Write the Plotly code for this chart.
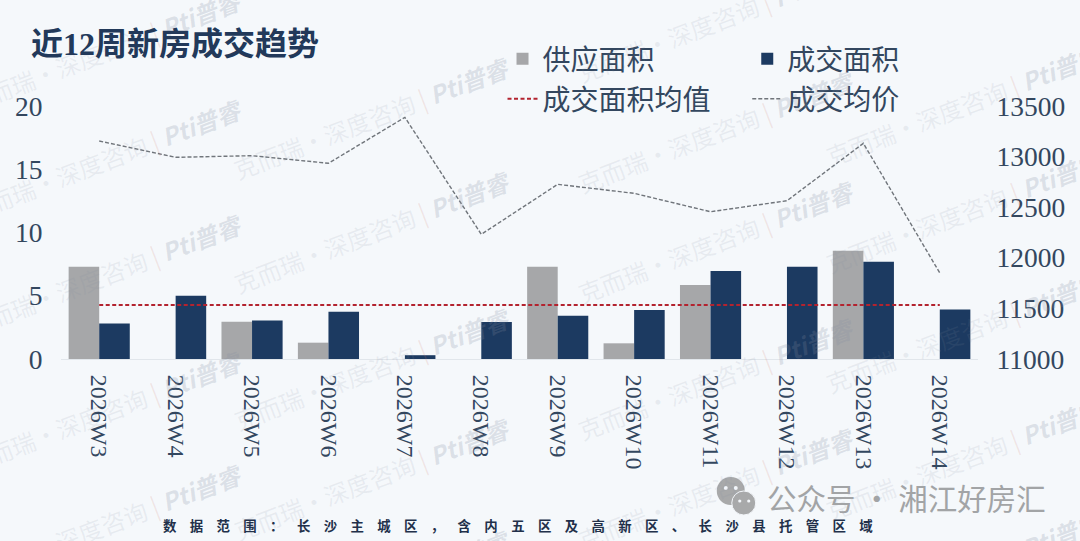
import plotly.graph_objects as go

weeks = ["2026W3", "2026W4", "2026W5", "2026W6", "2026W7", "2026W8",
         "2026W9", "2026W10", "2026W11", "2026W12", "2026W13", "2026W14"]
supply_area = [7.3, None, 2.95, 1.29, None, None, 7.3, 1.24, 5.85, None, 8.55, None]
deal_area = [2.8, 5.0, 3.05, 3.74, 0.3, 2.92, 3.42, 3.87, 6.95, 7.3, 7.68, 3.92]
mean_area = [4.27] * 12
avg_price = [13154, 12993, 13009, 12934, 13388, 12232, 12726, 12637, 12455, 12564, 13131, 11850]

W, H = 1080, 541
L, R, T, B = 60.5, 101.5, 106, 182
FONT = "Liberation Serif, Noto Sans CJK SC, serif"
TEXT = "#33475f"
NAVY = "#1c3a61"
GRAY = "#a6a7a9"

fig = go.Figure()
fig.add_bar(x=weeks, y=supply_area, name="供应面积", legend="legend",
            marker=dict(color=GRAY, line=dict(width=0)))
fig.add_bar(x=weeks, y=deal_area, name="成交面积", legend="legend2",
            marker=dict(color=NAVY, line=dict(width=0)))
fig.add_scatter(x=weeks, y=mean_area, name="成交面积均值", mode="lines", legend="legend3",
                line=dict(color="#b3232f", width=1.9, dash="4px,2.5px"))
fig.add_scatter(x=weeks, y=avg_price, name="成交均价", mode="lines", yaxis="y2", legend="legend4",
                line=dict(color="#70757b", width=1.4, dash="4px,2px"))

def px(x):
    return (x - L) / (W - L - R)

def py(y):
    return 1 - (y - T) / (H - T - B)

annotations = []

# Watermark: (x of the logo part, y of the logo part) per repeat
wm_rows = {
    197: [10, 118, 233, 370, 483],
    465: [77, 190, 327, 437, 549],
    809: [-20, 90, 200, 337, 447],
    1057: [63, 170, 290, 417, 530],
}
for wx, ys in wm_rows.items():
    for wy in ys:
        annotations.append(dict(
            text="<span style='color:rgba(130,140,160,0.12)'>克而瑞·深度咨询</span> "
                 "<span style='color:rgba(210,120,110,0.16)'>|</span> "
                 "<b><i><span style='color:rgba(130,140,160,0.22)'>Pti普睿</span></i></b>",
            x=px(wx - 93), y=py(wy + 41), xref="paper", yref="paper",
            xanchor="center", yanchor="middle", showarrow=False, textangle=-21,
            font=dict(family="Noto Sans CJK SC", size=24, color="rgb(130,140,160)"),
        ))

annotations.append(dict(
    text="<b>近12周新房成交趋势</b>", x=px(28), y=py(44), xref="paper", yref="paper",
    xanchor="left", yanchor="middle", showarrow=False,
    font=dict(family=FONT, size=32, color="#22395a"),
))
annotations.append(dict(
    text="<b>" + "\u2003".join("数据范围：长沙主城区，含内五区及高新区、长沙县托管区域") + "</b>",
    x=px(161), y=py(525), xref="paper", yref="paper", xanchor="left", yanchor="middle",
    showarrow=False, font=dict(family="Noto Sans CJK SC", size=13.4, color="#22304a"),
))
annotations.append(dict(
    text="公众号 · 湘江好房汇", x=px(765), y=py(497), xref="paper", yref="paper",
    xanchor="left", yanchor="middle", showarrow=False,
    font=dict(family="Noto Sans CJK SC", size=29.5, color="#a2a4a6"),
))

def circle(cx, cy, r, color, line="rgba(0,0,0,0)"):
    return dict(type="circle", xref="paper", yref="paper", layer="above",
                x0=px(cx - r), x1=px(cx + r), y0=py(cy + r), y1=py(cy - r),
                fillcolor=color, line=dict(color=line, width=1))

shapes = [
    circle(731, 491, 14, "#a8a9aa"),
    circle(744, 503, 12, "#a8a9aa", "#f3f6fa"),
    circle(726, 488, 2, "#f3f6fa"),
    circle(736, 488, 2, "#f3f6fa"),
    circle(740, 501, 1.6, "#f3f6fa"),
    circle(749, 501, 1.6, "#f3f6fa"),
]

def legend_at(x, y):
    return dict(x=px(x), xanchor="left", y=py(y), yanchor="middle", bgcolor="rgba(0,0,0,0)",
                font=dict(family=FONT, size=28, color=TEXT))

fig.update_layout(
    width=W, height=H, autosize=False,
    paper_bgcolor="#f5f8fb", plot_bgcolor="rgba(0,0,0,0)",
    margin=dict(l=L, r=R, t=T, b=B, pad=0, autoexpand=False),
    barmode="group", bargap=0.2, bargroupgap=0,
    font=dict(family=FONT, size=27.5, color=TEXT),
    annotations=annotations, shapes=shapes,
    showlegend=True,
    legend=legend_at(502.5, 59),
    legend2=legend_at(747.5, 59),
    legend3=legend_at(502.5, 99),
    legend4=legend_at(747.5, 99),
    xaxis=dict(type="category", categoryorder="array", categoryarray=weeks, tickangle=90,
               ticks="outside", ticklen=10, tickcolor="rgba(0,0,0,0)",
               showline=True, linecolor="#e1e6eb", linewidth=1, showgrid=False, zeroline=False,
               tickfont=dict(family=FONT, size=24, color=TEXT)),
    yaxis=dict(range=[0, 20], tickvals=[0, 5, 10, 15, 20], ticks="outside", ticklen=12,
               tickcolor="rgba(0,0,0,0)", showgrid=False, zeroline=False, showline=False,
               tickfont=dict(family=FONT, size=27.5, color=TEXT)),
    yaxis2=dict(range=[11000, 13500], tickvals=[11000, 11500, 12000, 12500, 13000, 13500],
                overlaying="y", side="right", ticks="outside", ticklen=12,
                tickcolor="rgba(0,0,0,0)", showgrid=False, zeroline=False, showline=False,
                tickformat="d", tickfont=dict(family=FONT, size=27.5, color=TEXT)),
)

fig.write_html("out.html", config={"displayModeBar": False},
               post_script="document.body.style.margin='0';document.body.style.overflow='hidden';")
